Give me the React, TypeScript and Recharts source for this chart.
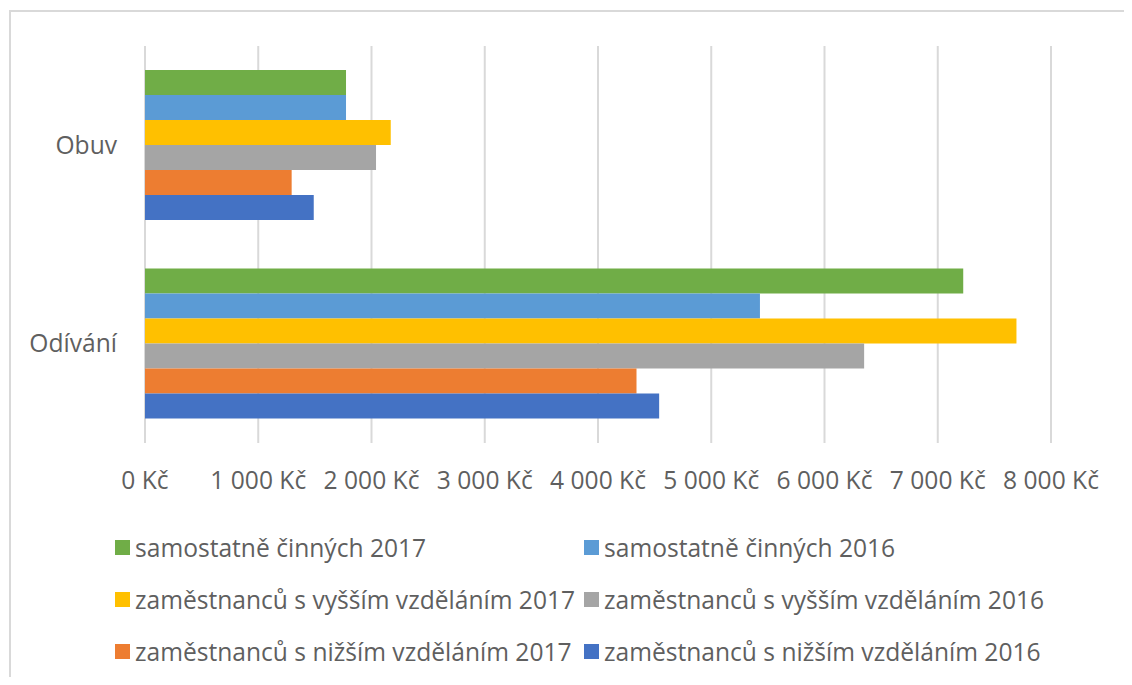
import React from 'react';
import { BarChart, Bar, XAxis, YAxis, CartesianGrid, Legend } from 'recharts';

const categories = ['Obuv', 'Odívání'];
const samostatne2017 = [1775, 7225];
const samostatne2016 = [1775, 5430];
const vyssi2017 = [2170, 7695];
const vyssi2016 = [2040, 6350];
const nizsi2017 = [1295, 4340];
const nizsi2016 = [1490, 4540];
const xTicks = [0, 1000, 2000, 3000, 4000, 5000, 6000, 7000, 8000];

const seriesNames = [
  'samostatně činných 2017',
  'samostatně činných 2016',
  'zaměstnanců s vyšším vzděláním 2017',
  'zaměstnanců s vyšším vzděláním 2016',
  'zaměstnanců s nižším vzděláním 2017',
  'zaměstnanců s nižším vzděláním 2016',
];
const seriesColors = ['#70ad47', '#5b9bd5', '#ffc000', '#a5a5a5', '#ed7d31', '#4472c4'];
const seriesValues = [samostatne2017, samostatne2016, vyssi2017, vyssi2016, nizsi2017, nizsi2016];

const data = categories.map((name, i) => {
  const row: Record<string, any> = { name };
  seriesValues.forEach((vals, s) => {
    row['s' + s] = vals[i];
  });
  return row;
});

const FONT = '"Open Sans", sans-serif';
const TEXT = '#5f5f5f';
const FS = 24.6;

const fmt = (v: number) =>
  String(v).replace(/\B(?=(\d{3})+(?!\d))/g, '\u00a0') + '\u00a0Kč';

const LegendContent = (props: any) => {
  const payload = [...(props.payload || [])].sort(
    (a: any, b: any) => seriesNames.indexOf(a.value) - seriesNames.indexOf(b.value)
  );
  return (
    <div
      style={{
        display: 'grid',
        gridTemplateColumns: '469px auto',
        paddingLeft: 115,
        fontFamily: FONT,
        fontSize: FS,
        color: TEXT,
      }}
    >
      {payload.map((p: any, i: number) => (
        <div
          key={i}
          style={{ display: 'flex', alignItems: 'center', height: 52, whiteSpace: 'nowrap' }}
        >
          <span
            style={{
              display: 'inline-block',
              width: 15,
              height: 15,
              background: p.color,
              marginRight: 5,
              flex: '0 0 auto',
            }}
          />
          <span>{p.value}</span>
        </div>
      ))}
    </div>
  );
};

export default function App() {
  return (
    <div style={{ margin: -8, position: 'relative', width: 1132, height: 685, background: '#fff' }}>
      <div
        style={{
          position: 'absolute',
          left: 9,
          top: 10,
          width: 1123,
          height: 675,
          borderTop: '2px solid #d9d9d9',
          borderLeft: '2px solid #d9d9d9',
          boxSizing: 'border-box',
        }}
      />
      <BarChart
        width={1132}
        height={685}
        data={data}
        layout="vertical"
        margin={{ top: 46, right: 81, left: 0, bottom: 182 }}
        barCategoryGap={24}
        barGap={0}
        style={{ position: 'absolute', left: 0, top: 0 }}
      >
        <CartesianGrid horizontal={false} stroke="#d9d9d9" strokeWidth={2} />
        <XAxis
          type="number"
          domain={[0, 8000]}
          ticks={xTicks}
          tickFormatter={fmt}
          axisLine={false}
          tickLine={false}
          tickMargin={23}
          height={60}
          interval={0}
          tick={{ fontSize: FS, fill: TEXT, fontFamily: FONT }}
        />
        <YAxis
          type="category"
          dataKey="name"
          width={145}
          axisLine={false}
          tickLine={false}
          tickMargin={22}
          tick={{ fontSize: FS, fill: TEXT, fontFamily: FONT }}
        />
        <Legend
          layout="horizontal"
          verticalAlign="middle"
          align="center"
          itemSorter={null as any}
          content={LegendContent}
          wrapperStyle={{ top: 521, left: 0, width: 1132 }}
        />
        {seriesNames.map((n, s) => (
          <Bar
            key={n}
            dataKey={'s' + s}
            name={n}
            fill={seriesColors[s]}
            isAnimationActive={false}
          />
        ))}
      </BarChart>
    </div>
  );
}
